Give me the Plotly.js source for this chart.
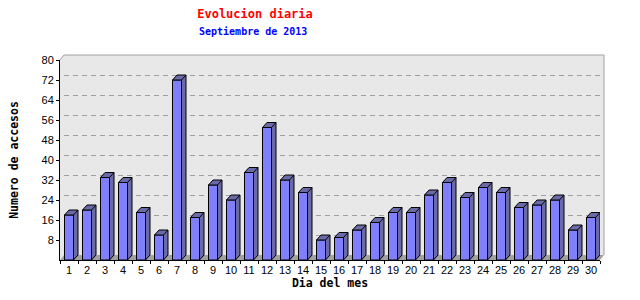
<!DOCTYPE html>
<html>
<head>
<meta charset="utf-8">
<script src="https://cdn.plot.ly/plotly-3.0.1.min.js"></script>
<style>html,body{margin:0;padding:0;background:#fff;}#chart{width:640px;height:300px;}</style>
</head>
<body>
<div id="chart"></div>
<script>
// ---- data ----
var days = [1,2,3,4,5,6,7,8,9,10,11,12,13,14,15,16,17,18,19,20,21,22,23,24,25,26,27,28,29,30];
var dayLabels = ["1","2","3","4","5","6","7","8","9","10","11","12","13","14","15","16","17","18","19","20","21","22","23","24","25","26","27","28","29","30"];
var accesos = [18,20,33,31,19,10,72,17,30,24,35,53,32,27,8,9,12,15,19,19,26,31,25,29,27,21,22,24,12,17];
var yTicks = [8,16,24,32,40,48,56,64,72,80];
var gridTicks = [8,16,24,32,40,48,56,64,72];

// ---- geometry (pixels) ----
var L = 60, T = 55, W = 544, H = 205;     // plot area
var FW = 540, FH = 200;                   // front plane size
var DXP = 4, DYP = 5;                     // depth offset in px
var halfW = 0.25;                         // half bar width (category units)
var dX = 4.5 / (FW / days.length);        // depth in x data units
var dY = DYP / (FH / 80);                 // depth in y data units

// side + top faces from data
var sx = [], sy = [], ex = [], ey = [];
for (var i = 0; i < days.length; i++) {
  var c = days[i], v = accesos[i];
  var x0 = c - halfW, x1 = c + halfW;
  sx.push(x0, x0 + dX, x1 + dX, x1 + dX, x1, x1, x0, null);
  sy.push(v, v + dY, v + dY, dY, 0, v, v, null);
  ex.push(x1, x1 + dX, null);
  ey.push(v, v + dY, null);
}

var traces = [
  // invisible trace so that the back (grid) subplot exists
  {type:'scatter', mode:'markers', x:[days[0]], y:[0], xaxis:'x', yaxis:'y',
   marker:{opacity:0}, hoverinfo:'skip', showlegend:false},
  {type:'bar', x: days, y: accesos, xaxis:'x2', yaxis:'y2', width: 2*halfW,
   marker:{color:'#8080ff', line:{color:'#000', width:1}}, hoverinfo:'x+y', showlegend:false},
  {type:'scatter', mode:'lines', x: sx, y: sy, xaxis:'x2', yaxis:'y2', fill:'toself',
   fillcolor:'#6a6aa8', line:{color:'#000', width:1}, hoverinfo:'skip', showlegend:false},
  {type:'scatter', mode:'lines', x: ex, y: ey, xaxis:'x2', yaxis:'y2',
   line:{color:'#000', width:1}, hoverinfo:'skip', showlegend:false}
];

var px = function(p){ return (p - L) / W; };
var py = function(p){ return (T + H - p) / H; };
var bx0 = px(L + DXP), by0 = py(T + H - DYP), fx1 = px(L + FW), fy1 = py(T + H - FH);

var layout = {
  width: 640, height: 300,
  margin: {l: L, r: 640 - L - W, t: T, b: 300 - T - H, pad: 0},
  paper_bgcolor: '#fff', plot_bgcolor: 'rgba(0,0,0,0)',
  showlegend: false,
  title: {text: 'Evolucion diaria', x: 255/640, xanchor: 'center', xref: 'container',
          y: 1 - 14/300, yanchor: 'middle', yref: 'container',
          font: {family: 'DejaVu Sans Mono', size: 12, color: '#ff0000', weight: 'bold'}},
  annotations: [
    {text: 'Septiembre de 2013', xref: 'paper', yref: 'paper', x: px(253), y: py(32),
     xanchor: 'center', yanchor: 'middle', showarrow: false,
     font: {family: 'DejaVu Sans Mono', size: 10, color: '#0000ff', weight: 'bold'}}
  ],
  // back plane (grid)
  xaxis: {domain: [bx0, 1], anchor: 'y', range: [0.5, 30.5], showticklabels: false, ticks: '',
          showline: false, showgrid: false, zeroline: false, fixedrange: true},
  yaxis: {domain: [by0, 1], anchor: 'x', range: [0, 80], tickmode: 'array', tickvals: gridTicks,
          showticklabels: false, ticks: '', showline: false, zeroline: false,
          showgrid: true, gridcolor: '#a0a0a0', gridwidth: 1, griddash: '5px,4px', fixedrange: true},
  // front plane (data)
  xaxis2: {domain: [0, fx1], anchor: 'y2', range: [0.5, 30.5], tickmode: 'array',
           tickvals: days, ticktext: dayLabels, ticks: '', showgrid: false, zeroline: false,
           showline: true, linecolor: '#000', linewidth: 1,
           minor: {tickmode: 'linear', tick0: 0.5, dtick: 1, ticks: 'outside', ticklen: 3, tickcolor: '#000', showgrid: false},
           tickfont: {family: 'Liberation Sans', size: 11, color: '#000'},
           title: {text: 'Dia del mes', standoff: 2,
                   font: {family: 'DejaVu Sans Mono', size: 11.5, color: '#000', weight: 'bold'}},
           fixedrange: true},
  yaxis2: {domain: [0, fy1], anchor: 'x2', range: [0, 80], tickmode: 'array', tickvals: yTicks,
           ticks: 'outside', ticklen: 3, tickcolor: '#000', showgrid: false, zeroline: false,
           showline: true, linecolor: '#000', linewidth: 1,
           tickfont: {family: 'Liberation Sans', size: 11, color: '#000'},
           title: {text: 'Numero de accesos', standoff: 20,
                   font: {family: 'DejaVu Sans Mono', size: 11.5, color: '#000', weight: 'bold'}},
           fixedrange: true},
  shapes: [
    // back wall
    {type:'rect', xref:'paper', yref:'paper', x0: bx0, x1: 1, y0: by0, y1: 1,
     fillcolor:'#e8e8e8', line:{width:0}, layer:'below'},
    // left wall
    {type:'path', xref:'paper', yref:'paper', layer:'below',
     path: 'M0,'+fy1+' L'+bx0+',1 L'+bx0+','+by0+' L0,0 Z', fillcolor:'#e8e8e8', line:{width:0}},
    // floor
    {type:'path', xref:'paper', yref:'paper', layer:'below',
     path: 'M0,0 L'+bx0+','+by0+' L1,'+by0+' L'+fx1+',0 Z', fillcolor:'#a0a0a0', line:{width:0}},
    // wall borders
    {type:'line', xref:'paper', yref:'paper', x0: bx0, x1: 1, y0: 1, y1: 1, line:{color:'#a0a0a0', width:1}, layer:'below'},
    {type:'line', xref:'paper', yref:'paper', x0: 1, x1: 1, y0: by0, y1: 1, line:{color:'#a0a0a0', width:1}, layer:'below'},
    {type:'line', xref:'paper', yref:'paper', x0: 0, x1: bx0, y0: fy1, y1: 1, line:{color:'#a0a0a0', width:1}, layer:'below'}
  ]
};

Plotly.newPlot('chart', traces, layout, {staticPlot: true, displayModeBar: false});
</script>
</body>
</html>
